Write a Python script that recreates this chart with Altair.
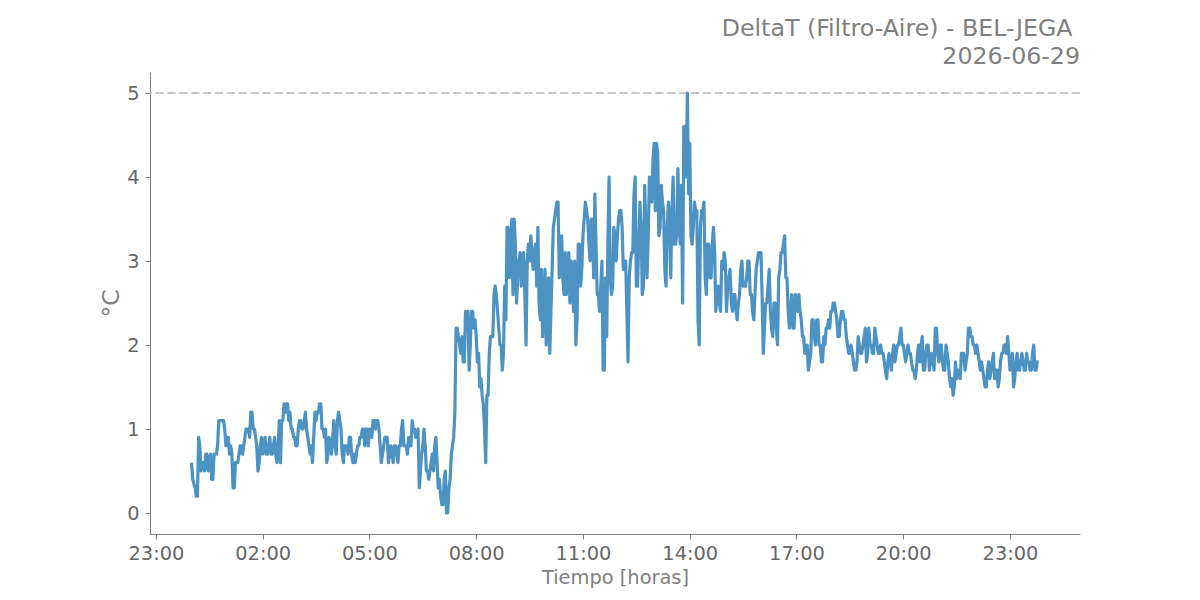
import altair as alt
import pandas as pd

# DeltaT readings of 2026-06-29, one pair of lists per hour:
# hXX = values at minutes 0, 4, 8, ... ; mXX = values at minutes 2, 6, 10, ...
h00 = [0.6, 0.35, 0.2, 0.9, 0.5, 0.6, 0.7, 0.5, 0.7, 0.4, 0.7, 0.8, 1.1, 1.1, 1.0]
m00 = [0.4, 0.3, 0.2, 0.8, 0.6, 0.5, 0.7, 0.6, 0.4, 0.7, 0.7, 1.1, 1.1, 1.1, 0.8]
h01 = [0.9, 0.7, 0.7, 0.3, 0.6, 0.7, 0.8, 0.8, 1.0, 1.0, 1.2, 1.0, 0.9, 0.5, 0.8]
m01 = [0.9, 0.8, 0.3, 0.6, 0.6, 0.8, 0.7, 0.9, 1.0, 0.9, 1.2, 1.0, 0.8, 0.6, 0.9]
h02 = [0.7, 0.9, 0.7, 0.9, 0.7, 0.9, 0.6, 1.1, 1.1, 1.3, 1.3, 1.1, 1.0, 0.9, 0.8]
m02 = [0.8, 0.7, 0.8, 0.7, 0.8, 0.7, 0.8, 0.6, 1.1, 1.2, 1.3, 1.2, 1.0, 0.9, 0.8]
h03 = [1.0, 1.1, 1.0, 1.2, 0.9, 0.7, 0.6, 1.2, 1.2, 1.3, 1.0, 0.9, 0.6, 0.9, 0.7]
m03 = [1.1, 1.0, 1.1, 1.0, 0.8, 0.8, 0.9, 1.1, 1.2, 1.3, 1.0, 1.0, 0.7, 0.8, 0.9]
h04 = [1.1, 0.7, 1.2, 1.0, 0.6, 0.8, 0.7, 0.9, 0.6, 0.6, 0.8, 0.9, 1.0, 0.8, 1.0]
m04 = [0.8, 1.1, 1.1, 0.7, 0.8, 0.8, 0.9, 0.7, 0.7, 0.7, 0.8, 0.9, 1.0, 1.0, 0.8]
h05 = [1.0, 0.9, 1.1, 1.1, 1.0, 0.6, 0.8, 0.9, 0.6, 0.8, 0.6, 0.8, 0.6, 0.8, 1.1]
m05 = [1.0, 1.1, 1.0, 1.1, 0.8, 0.7, 0.9, 0.9, 0.7, 0.7, 0.8, 0.7, 0.8, 1.0, 0.8]
h06 = [0.8, 0.7, 0.8, 1.1, 1.0, 0.9, 0.3, 0.7, 1.0, 0.5, 0.4, 0.6, 0.5, 0.9, 0.3]
m06 = [0.8, 0.9, 0.8, 1.0, 0.9, 1.0, 0.5, 0.8, 0.8, 0.5, 0.5, 0.7, 0.8, 0.6, 0.4]
h07 = [0.2, 0.1, 0.5, 0.0, 0.4, 0.8, 1.2, 2.2, 2.0, 2.1, 1.8, 2.4, 1.7, 2.4, 2.2]
m07 = [0.1, 0.4, 0.0, 0.3, 0.7, 0.9, 2.2, 2.1, 1.9, 1.8, 2.4, 2.4, 2.0, 2.4, 2.3]
h08 = [2.1, 1.9, 1.6, 1.3, 0.6, 1.4, 2.1, 2.1, 2.7, 2.4, 2.0, 1.7, 2.7, 3.4, 2.8]
m08 = [1.8, 1.5, 1.4, 1.0, 1.4, 1.9, 2.1, 2.6, 2.6, 2.2, 2.0, 1.9, 2.3, 3.4, 3.0]
h09 = [3.5, 3.5, 2.5, 3.0, 2.7, 3.1, 2.0, 3.2, 3.3, 2.9, 3.2, 3.4, 2.3, 2.1, 2.9]
m09 = [2.6, 3.2, 2.8, 3.1, 3.0, 2.6, 3.0, 3.0, 3.1, 3.1, 2.7, 2.5, 2.9, 2.4, 2.0]
h10 = [2.6, 1.9, 2.9, 3.5, 3.7, 2.8, 3.3, 2.6, 2.6, 3.1, 3.0, 2.4, 2.0, 3.2, 2.7]
m10 = [2.8, 2.4, 3.4, 3.6, 3.7, 3.0, 2.8, 3.1, 2.9, 2.5, 2.9, 3.0, 2.3, 3.2, 2.9]
h11 = [3.3, 3.7, 3.5, 3.0, 3.5, 3.8, 2.6, 2.4, 3.0, 1.7, 2.1, 4.0, 2.6, 3.4, 3.0]
m11 = [3.5, 3.6, 3.2, 3.5, 2.8, 3.2, 2.6, 2.7, 1.7, 2.8, 3.2, 2.8, 2.7, 3.3, 3.3]
h12 = [3.5, 3.6, 2.9, 3.0, 1.8, 3.0, 3.1, 4.0, 2.7, 3.7, 2.6, 3.9, 2.8, 4.0, 3.7]
m12 = [3.6, 3.4, 3.0, 2.4, 2.8, 3.1, 3.8, 2.7, 3.2, 3.4, 2.7, 3.4, 3.3, 3.9, 4.2]
h13 = [4.4, 4.4, 3.3, 3.9, 3.6, 2.7, 3.7, 2.8, 4.0, 3.2, 4.1, 3.2, 2.5, 4.6, 5.0]
m13 = [3.6, 4.3, 3.4, 3.7, 2.9, 3.4, 3.5, 3.6, 3.2, 3.3, 3.5, 3.9, 4.6, 4.0, 3.8]
h14 = [4.4, 3.2, 3.7, 3.6, 2.0, 3.6, 3.7, 2.6, 3.2, 2.8, 3.4, 2.4, 2.7, 2.4, 2.9]
m14 = [3.3, 3.4, 3.6, 2.3, 3.4, 3.6, 2.8, 3.2, 2.8, 3.2, 3.1, 2.6, 2.5, 3.0, 3.1]
h15 = [3.0, 2.7, 2.9, 2.4, 2.6, 2.3, 2.6, 3.0, 2.7, 2.8, 3.0, 2.6, 2.3, 2.9, 3.1]
m15 = [2.4, 2.8, 2.5, 2.6, 2.4, 2.5, 2.9, 2.7, 2.7, 3.0, 2.6, 2.4, 2.6, 3.0, 3.1]
h16 = [3.1, 1.9, 2.5, 2.7, 2.4, 2.1, 2.5, 2.0, 2.9, 3.1, 3.3, 2.8, 2.2, 2.6, 2.2]
m16 = [2.6, 2.2, 2.5, 2.9, 2.2, 2.5, 2.2, 2.8, 3.1, 3.2, 2.8, 2.4, 2.4, 2.2, 2.6]
h17 = [2.5, 2.6, 2.3, 2.1, 1.9, 1.7, 1.9, 2.3, 2.0, 2.3, 2.0, 1.8, 2.0, 2.2, 2.2]
m17 = [2.4, 2.4, 2.1, 1.9, 2.0, 1.8, 2.3, 2.1, 2.3, 2.0, 1.8, 2.1, 2.2, 2.3, 2.4]
h18 = [2.4, 2.5, 2.3, 2.1, 2.4, 2.3, 2.1, 1.9, 2.0, 1.8, 1.7, 2.1, 1.9, 2.0, 2.2]
m18 = [2.5, 2.4, 2.1, 2.3, 2.4, 2.3, 2.0, 1.9, 1.9, 1.7, 1.8, 2.0, 1.9, 2.1, 1.8]
h19 = [1.9, 2.0, 1.9, 2.2, 2.0, 1.9, 1.9, 1.8, 1.6, 1.9, 1.7, 2.0, 1.9, 2.0, 2.2]
m19 = [2.2, 2.0, 1.9, 2.1, 1.9, 2.0, 1.9, 1.7, 1.8, 1.8, 1.9, 1.8, 2.0, 2.1, 2.0]
h20 = [2.0, 1.8, 2.0, 1.9, 1.7, 1.6, 1.9, 1.8, 2.1, 1.7, 2.0, 1.7, 1.9, 1.7, 2.2]
m20 = [1.9, 1.9, 1.9, 1.8, 1.7, 1.7, 2.0, 2.0, 1.7, 1.9, 2.0, 1.8, 1.8, 2.2, 1.9]
h21 = [1.8, 2.0, 1.7, 2.0, 1.8, 1.5, 1.4, 1.8, 1.7, 1.6, 1.9, 1.7, 1.9, 2.2, 2.1]
m21 = [2.0, 1.8, 1.7, 1.9, 1.6, 1.6, 1.5, 1.6, 1.7, 1.9, 1.9, 1.8, 2.2, 2.1, 2.0]
h22 = [2.0, 2.0, 1.8, 1.8, 1.6, 1.5, 1.8, 1.7, 1.9, 1.7, 1.5, 1.8, 1.9, 2.0, 2.1]
m22 = [1.9, 1.9, 1.7, 1.7, 1.5, 1.7, 1.6, 1.8, 1.6, 1.7, 1.6, 1.9, 2.0, 1.9, 1.9]
h23 = [1.7, 1.9, 1.6, 1.9, 1.7, 1.9, 1.7, 1.9, 1.8, 1.7, 2.0, 1.7, 1.8]
m23 = [1.8, 1.5, 1.8, 1.7, 1.8, 1.8, 1.7, 1.8, 1.7, 1.9, 1.7, 1.8]

even_lists = [h00, h01, h02, h03, h04, h05, h06, h07, h08, h09, h10, h11,
              h12, h13, h14, h15, h16, h17, h18, h19, h20, h21, h22, h23]
odd_lists = [m00, m01, m02, m03, m04, m05, m06, m07, m08, m09, m10, m11,
             m12, m13, m14, m15, m16, m17, m18, m19, m20, m21, m22, m23]

title_lines = ["DeltaT (Filtro-Aire) - BEL-JEGA\u00a0\u200b", "2026-06-29"]
x_title = "Tiempo [horas]"
y_title = "°C"
limit_value = 5
y_ticks = [0, 1, 2, 3, 4, 5]
# tick times: 23:00 previous day, then every 3 hours
tick_times = [(28, 23), (29, 2), (29, 5), (29, 8), (29, 11), (29, 14),
              (29, 17), (29, 20), (29, 23)]

rows = []
for h in range(24):
    for k, v in enumerate(even_lists[h]):
        rows.append({"t": f"2026-06-29T{h:02d}:{4*k:02d}:00", "v": v})
    for k, v in enumerate(odd_lists[h]):
        rows.append({"t": f"2026-06-29T{h:02d}:{4*k+2:02d}:00", "v": v})
df = pd.DataFrame(rows).sort_values("t").reset_index(drop=True)

font = "DejaVu Sans"
x_dom = [alt.DateTime(year=2026, month=6, date=28, hours=22, minutes=50),
         alt.DateTime(year=2026, month=6, date=30, hours=0, minutes=58)]
x_vals = [alt.DateTime(year=2026, month=6, date=d, hours=hh, minutes=0) for d, hh in tick_times]

line = alt.Chart(df).mark_line(color="#4c92c3", strokeWidth=3.2, strokeJoin="round").encode(
    x=alt.X("t:T", sort=None, scale=alt.Scale(domain=x_dom, nice=False),
            axis=alt.Axis(values=x_vals, format="%H:%M", title=x_title, grid=False,
                          labelFontSize=19.4, labelColor="#666666", labelFont=font,
                          titleFontSize=19.4, titleColor="#808080", titleFont=font,
                          titleFontWeight="normal", titlePadding=6,
                          domainColor="#808080", tickColor="#808080", tickSize=5,
                          labelPadding=5, labelFlush=False, labelOverlap=False)),
    y=alt.Y("v:Q", scale=alt.Scale(domain=[-0.25, 5.25], nice=False, zero=False),
            axis=alt.Axis(values=y_ticks, format="d", title=y_title, grid=False,
                          labelFontSize=19.4, labelColor="#666666", labelFont=font,
                          titleFontSize=23.5, titleColor="#808080", titleFont=font,
                          titleFontWeight="normal", titlePadding=3,
                          domainColor="#808080", tickColor="#808080", tickSize=5,
                          labelPadding=6)),
)

rule = alt.Chart(pd.DataFrame({"y": [limit_value]})).mark_rule(
    color="#b5b5b5", strokeWidth=1.5, strokeDash=[8.3, 3.6]).encode(y="y:Q")

chart = alt.layer(rule, line).properties(
    width=930, height=462,
    autosize=alt.AutoSizeParams(type="none"),
    padding={"left": 142, "top": 64, "right": 112, "bottom": 60},
    title=alt.TitleParams(text=title_lines, anchor="end", frame="group",
                          fontSize=23.7, font=font, fontWeight="normal",
                          color="#808080", lineHeight=28, offset=3),
).configure_view(stroke=None)

chart.save("out.html", embed_options={"renderer": "svg", "actions": False})
